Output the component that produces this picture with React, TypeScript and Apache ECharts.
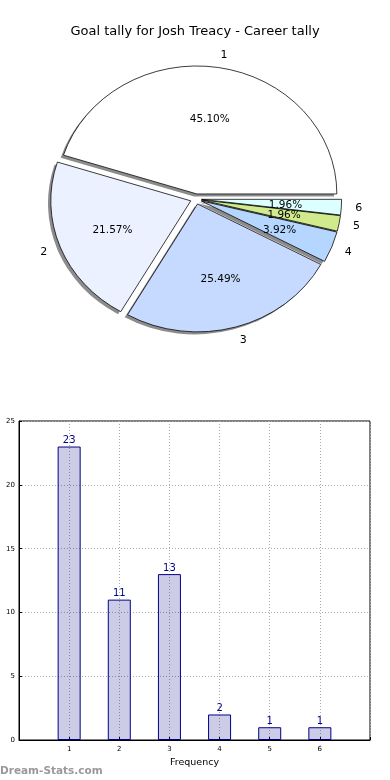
import React, { useEffect, useRef } from "react";
import * as echarts from "echarts";

const TITLE = "Goal tally for Josh Treacy - Career tally";
const sliceLabels = ["1", "2", "3", "4", "5", "6"];
const sliceValues = [23, 11, 13, 2, 1, 1];
const sliceColors = ["#ffffff", "#ebf1ff", "#c6d9ff", "#b5d6ff", "#d0ea8c", "#dcffff"];

const barCategories = [1, 2, 3, 4, 5, 6];
const barValues = [23, 11, 13, 2, 1, 1];
const xAxisName = "Frequency";
const yAxisName = "Goals in Match";
const watermark = "Dream-Stats.com";

const FONT = "DejaVu Sans";

export default function App() {
  const ref = useRef<HTMLDivElement>(null);
  useEffect(() => {
    document.body.style.margin = "0";
    const chart = echarts.init(ref.current!, null, { renderer: "svg" });
    const total = sliceValues.reduce((a, b) => a + b, 0);
    const starts: number[] = [];
    let acc = 0;
    sliceValues.forEach((v) => {
      starts.push((acc / total) * Math.PI * 2);
      acc += v;
    });
    const CX = 196, CY = 199, RX = 140, RY = 128;
    const EXP = 0.04, SH = 0.02;

    const renderItem = (params: any, api: any) => {
      const i = params.dataIndex;
      const v = api.value(0);
      const a1 = starts[i];
      const a2 = a1 + (v / total) * Math.PI * 2;
      const mid = (a1 + a2) / 2;
      const ex = CX + EXP * RX * Math.cos(mid);
      const ey = CY - EXP * RY * Math.sin(mid);
      const shape = { cx: 0, cy: 0, r0: 0, r: RX, startAngle: -a1, endAngle: -a2, clockwise: false };
      const k = RY / RX;
      const lx = ex + 1.1 * RX * Math.cos(mid);
      const ly = ey - 1.1 * RY * Math.sin(mid);
      const px = ex + 0.6 * RX * Math.cos(mid);
      const py = ey - 0.6 * RY * Math.sin(mid);
      return {
        type: "group",
        children: [
          {
            type: "sector",
            x: ex - SH * RX,
            y: ey + SH * RY,
            scaleY: k,
            z2: 0,
            shape,
            style: { fill: "#8c8c8c", stroke: "none" },
            silent: true,
          },
          {
            type: "sector",
            x: ex,
            y: ey,
            scaleY: k,
            z2: 5,
            shape,
            style: { fill: sliceColors[i], stroke: "#000", lineWidth: 0.8, strokeNoScale: true },
            silent: true,
          },
          {
            type: "text",
            x: lx,
            y: ly,
            z2: 10,
            style: {
              text: sliceLabels[i],
              fontSize: 11,
              fontFamily: FONT,
              fill: "#000",
              align: Math.cos(mid) > 0 ? "left" : "right",
              verticalAlign: "middle",
            },
            silent: true,
          },
          {
            type: "text",
            x: px,
            y: py,
            z2: 10,
            style: {
              text: ((v / total) * 100).toFixed(2) + "%",
              fontSize: 10.5,
              fontFamily: FONT,
              fill: "#000",
              align: "center",
              verticalAlign: "middle",
            },
            silent: true,
          },
        ],
      };
    };

    chart.setOption({
      animation: false,
      title: {
        text: TITLE,
        left: "center",
        top: 19,
        textStyle: { fontFamily: FONT, fontSize: 13, fontWeight: "normal", color: "#000" },
      },
      graphic: [
        {
          type: "text",
          left: 0,
          top: 764,
          style: { text: watermark, fontFamily: FONT, fontSize: 10.5, fontWeight: "bold", fill: "#999" },
        },
      ],
      grid: {
        left: 19,
        right: 20,
        top: 421,
        bottom: 40,
        containLabel: false,
        outerBoundsMode: "none",
        show: true,
        borderColor: "#000",
        borderWidth: 1,
        backgroundColor: "transparent",
      },
      xAxis: {
        type: "value",
        min: 0,
        max: 7,
        interval: 1,
        name: xAxisName,
        nameLocation: "middle",
        nameGap: 16,
        nameTextStyle: { fontFamily: FONT, fontSize: 9.5, color: "#000" },
        axisLine: { lineStyle: { color: "#000" } },
        axisTick: { inside: true, length: 3, lineStyle: { color: "#000" } },
        axisLabel: {
          fontFamily: FONT,
          fontSize: 7,
          color: "#000",
          margin: 5,
          formatter: (v: number) => (barCategories.includes(v) ? String(v) : ""),
        },
        splitLine: { show: true, lineStyle: { type: [1, 2], color: "#aaa", width: 1 } },
      },
      yAxis: {
        type: "value",
        min: 0,
        max: 25,
        interval: 5,
        name: yAxisName,
        nameLocation: "middle",
        nameGap: 20,
        nameTextStyle: { fontFamily: FONT, fontSize: 9, color: "#000" },
        axisLine: { show: true, lineStyle: { color: "#000" } },
        axisTick: { show: true, inside: true, length: 3, lineStyle: { color: "#000" } },
        axisLabel: { fontFamily: FONT, fontSize: 7, color: "#000", margin: 4 },
        splitLine: { show: true, lineStyle: { type: [1, 2], color: "#aaa", width: 1 } },
      },
      series: [
        {
          type: "custom",
          coordinateSystem: "none",
          renderItem,
          data: sliceValues.map((v) => [v]),
          silent: true,
        },
        {
          type: "bar",
          data: barCategories.map((c, i) => [c, barValues[i]]),
          barWidth: 23,
          itemStyle: { color: "rgba(0,0,128,0.2)", borderColor: "#00008b", borderWidth: 1 },
          label: {
            show: true,
            position: "top",
            distance: 2,
            fontFamily: FONT,
            fontSize: 10,
            color: "#00008b",
          },
          silent: true,
        },
      ],
    });
    return () => chart.dispose();
  }, []);
  return <div ref={ref} style={{ position: "fixed", left: 0, top: 0, width: 390, height: 780 }} />;
}
